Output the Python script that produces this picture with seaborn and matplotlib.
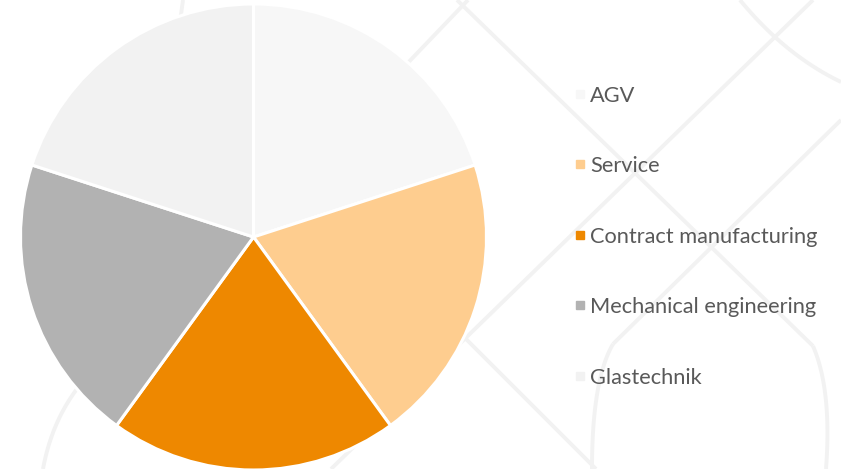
import numpy as np
import pandas as pd
import seaborn as sns
import matplotlib
matplotlib.use("Agg")
import matplotlib.pyplot as plt
from matplotlib.lines import Line2D

# ---- data ----
categories = ["AGV", "Service", "Contract manufacturing",
              "Mechanical engineering", "Glastechnik"]
shares = [20, 20, 20, 20, 20]
colors = ["#f7f7f7", "#fecd8f", "#ee8800", "#b2b2b2", "#f2f2f2"]

sns.set_theme(style="white")
plt.rcParams['font.family'] = ['Lato', 'DejaVu Sans']

W, H = 841, 469
fig = plt.figure(figsize=(W / 100, H / 100), dpi=100)
fig.patch.set_facecolor("white")

# ---- faint decorative background pattern (pixel coords) ----
bg = fig.add_axes([0, 0, 1, 1], zorder=0)
bg.set_xlim(0, W)
bg.set_ylim(H, 0)
bg.axis("off")


def bez(p0, p1, p2, n=40):
    t = np.linspace(0, 1, n)[:, None]
    p0, p1, p2 = map(np.asarray, (p0, p1, p2))
    pts = (1 - t) ** 2 * p0 + 2 * (1 - t) * t * p1 + t ** 2 * p2
    return pts[:, 0], pts[:, 1]


deco_lines = [
    [(457, 0), (813, 346)],
    [(813, 0), (331, 469)],
    [(841, 120), (613, 344)],
    [(380, 92), (468, 0)],
    [(430, 303), (596, 469)],
    [(183, 0), (180, 22)],
]
deco_curves = [
    [(813, 346), (832, 390), (826, 469)],
    [(613, 344), (592, 380), (592, 469)],
    [(740, 0), (785, 55), (841, 82)],
    [(43, 469), (52, 420), (80, 385)],
]
deco_col = "#f2f2f2"
for seg in deco_lines:
    xs, ys = zip(*seg)
    bg.plot(xs, ys, color=deco_col, lw=2.8, solid_capstyle="butt")
for c in deco_curves:
    xs, ys = bez(*c)
    bg.plot(xs, ys, color=deco_col, lw=2.8, solid_capstyle="butt")

# ---- pie ----
cx, cy, r = 253.5, 237, 233
ax = fig.add_axes([(cx - r) / W, (H - cy - r) / H, 2 * r / W, 2 * r / H], zorder=1)
ax.pie(shares, colors=colors, startangle=90, counterclock=False, radius=1,
       wedgeprops=dict(edgecolor="white", linewidth=2.2))
ax.set_xlim(-1.0, 1.0)
ax.set_ylim(-1.0, 1.0)
ax.set_aspect("equal")
ax.axis("off")

# ---- legend ----
t = fig.text(0, 0, "Contract manufacturing", fontsize=10)
fig.canvas.draw()
wtxt = t.get_window_extent(fig.canvas.get_renderer()).width
t.remove()
fs = 10 * 228 / wtxt
fs_px = fs * 100 / 72

handles = [Line2D([], [], marker="s", linestyle="none", markerfacecolor=c,
                  markeredgecolor=c, markersize=8 * 72 / 100) for c in colors]


def make_legend(ls, ay):
    return fig.legend(handles, categories, loc="center left",
                      bbox_to_anchor=(576 / W, ay), frameon=False, fontsize=fs,
                      handlelength=8 / fs_px, handletextpad=6 / fs_px,
                      borderpad=0, borderaxespad=0, labelcolor="#595959",
                      labelspacing=ls)


ls0 = 2.0
ay0 = 1 - 236.5 / H
leg = make_legend(ls0, ay0)
fig.canvas.draw()
rend = fig.canvas.get_renderer()
ys = [(b.y0 + b.y1) / 2 for b in (tt.get_window_extent(rend) for tt in leg.get_texts())]
pitch = (ys[0] - ys[-1]) / 4
ls1 = ls0 + (70.5 - pitch) / fs_px
leg.remove()
leg = make_legend(ls1, ay0)
fig.canvas.draw()
ys = [(b.y0 + b.y1) / 2 for b in (tt.get_window_extent(rend) for tt in leg.get_texts())]
target_mid = H - (95.5 + 377.5) / 2
shift = (target_mid - np.mean(ys)) / H
leg.remove()
leg = make_legend(ls1, ay0 + shift)

fig.savefig("out.png", dpi=100, facecolor="white")
